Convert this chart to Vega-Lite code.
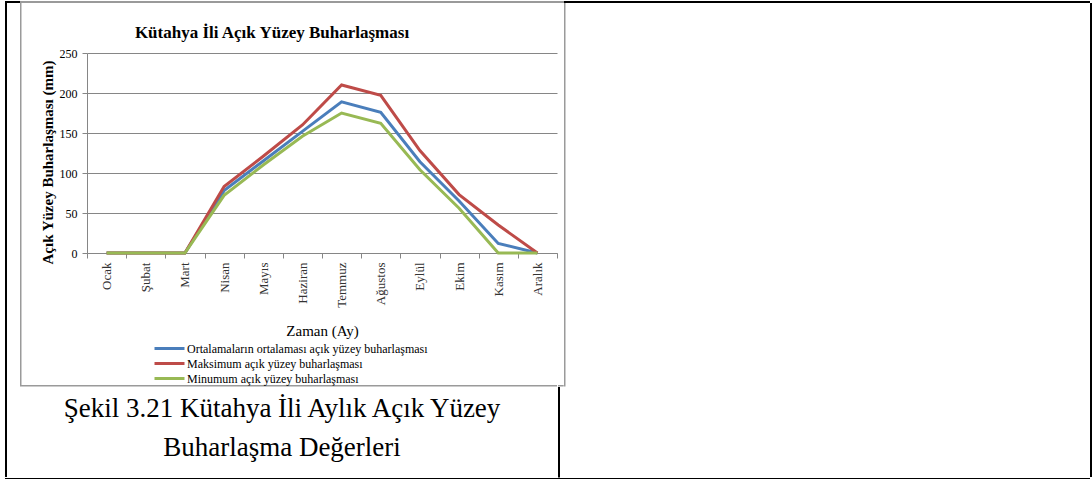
{
  "$schema": "https://vega.github.io/schema/vega-lite/v6.json",
  "autosize": {"type": "pad"},
  "padding": {"left": 5, "top": 1, "right": 0, "bottom": 0},
  "background": "white",
  "config": {
    "view": {"stroke": null},
    "font": "Liberation Serif",
    "concat": {"spacing": 0},
    "legend": {"padding": 0}
  },
  "datasets": {
    "evap": [
      {"ay": "Ocak", "seri": "Ortalamaların ortalaması açık yüzey buharlaşması", "deger": 0},
      {"ay": "Şubat", "seri": "Ortalamaların ortalaması açık yüzey buharlaşması", "deger": 0},
      {"ay": "Mart", "seri": "Ortalamaların ortalaması açık yüzey buharlaşması", "deger": 0},
      {"ay": "Nisan", "seri": "Ortalamaların ortalaması açık yüzey buharlaşması", "deger": 78},
      {"ay": "Mayıs", "seri": "Ortalamaların ortalaması açık yüzey buharlaşması", "deger": 115},
      {"ay": "Haziran", "seri": "Ortalamaların ortalaması açık yüzey buharlaşması", "deger": 152},
      {"ay": "Temmuz", "seri": "Ortalamaların ortalaması açık yüzey buharlaşması", "deger": 189},
      {"ay": "Ağustos", "seri": "Ortalamaların ortalaması açık yüzey buharlaşması", "deger": 176},
      {"ay": "Eylül", "seri": "Ortalamaların ortalaması açık yüzey buharlaşması", "deger": 114},
      {"ay": "Ekim", "seri": "Ortalamaların ortalaması açık yüzey buharlaşması", "deger": 65},
      {"ay": "Kasım", "seri": "Ortalamaların ortalaması açık yüzey buharlaşması", "deger": 12},
      {"ay": "Aralık", "seri": "Ortalamaların ortalaması açık yüzey buharlaşması", "deger": 0},
      {"ay": "Ocak", "seri": "Maksimum açık yüzey buharlaşması", "deger": 0},
      {"ay": "Şubat", "seri": "Maksimum açık yüzey buharlaşması", "deger": 0},
      {"ay": "Mart", "seri": "Maksimum açık yüzey buharlaşması", "deger": 0},
      {"ay": "Nisan", "seri": "Maksimum açık yüzey buharlaşması", "deger": 83},
      {"ay": "Mayıs", "seri": "Maksimum açık yüzey buharlaşması", "deger": 121},
      {"ay": "Haziran", "seri": "Maksimum açık yüzey buharlaşması", "deger": 160},
      {"ay": "Temmuz", "seri": "Maksimum açık yüzey buharlaşması", "deger": 210},
      {"ay": "Ağustos", "seri": "Maksimum açık yüzey buharlaşması", "deger": 197},
      {"ay": "Eylül", "seri": "Maksimum açık yüzey buharlaşması", "deger": 128},
      {"ay": "Ekim", "seri": "Maksimum açık yüzey buharlaşması", "deger": 73},
      {"ay": "Kasım", "seri": "Maksimum açık yüzey buharlaşması", "deger": 35},
      {"ay": "Aralık", "seri": "Maksimum açık yüzey buharlaşması", "deger": 0},
      {"ay": "Ocak", "seri": "Minumum açık yüzey buharlaşması", "deger": 0},
      {"ay": "Şubat", "seri": "Minumum açık yüzey buharlaşması", "deger": 0},
      {"ay": "Mart", "seri": "Minumum açık yüzey buharlaşması", "deger": 0},
      {"ay": "Nisan", "seri": "Minumum açık yüzey buharlaşması", "deger": 72},
      {"ay": "Mayıs", "seri": "Minumum açık yüzey buharlaşması", "deger": 110},
      {"ay": "Haziran", "seri": "Minumum açık yüzey buharlaşması", "deger": 146},
      {"ay": "Temmuz", "seri": "Minumum açık yüzey buharlaşması", "deger": 175},
      {"ay": "Ağustos", "seri": "Minumum açık yüzey buharlaşması", "deger": 162},
      {"ay": "Eylül", "seri": "Minumum açık yüzey buharlaşması", "deger": 104},
      {"ay": "Ekim", "seri": "Minumum açık yüzey buharlaşması", "deger": 56},
      {"ay": "Kasım", "seri": "Minumum açık yüzey buharlaşması", "deger": 0},
      {"ay": "Aralık", "seri": "Minumum açık yüzey buharlaşması", "deger": 0}
    ]
  },
  "spacing": 0,
  "vconcat": [
    {
      "spacing": 0,
      "hconcat": [
        {"width": 15, "height": 2, "view": {"fill": "black", "stroke": null}, "data": {"values": []}, "mark": "text"},
        {"width": 544, "height": 2, "view": {"fill": "#9a9a9a", "stroke": null}, "data": {"values": []}, "mark": "text"},
        {"width": 526, "height": 2, "view": {"fill": "black", "stroke": null}, "data": {"values": []}, "mark": "text"}
      ]
    },
    {
      "spacing": 0,
      "hconcat": [
        {"width": 2, "height": 474, "view": {"fill": "black", "stroke": null}, "data": {"values": []}, "mark": "text"},
        {
          "spacing": 0,
          "vconcat": [
            {
              "spacing": 0,
              "hconcat": [
                {"width": 13, "height": 382, "view": {"fill": "transparent", "stroke": null}, "data": {"values": []}, "mark": "text"},
                {"width": 1.5, "height": 382, "view": {"fill": "#9a9a9a", "stroke": null}, "data": {"values": []}, "mark": "text"},
                {
                  "spacing": 0,
                  "vconcat": [
                    {"width": 100, "height": 21, "view": {"fill": "transparent", "stroke": null}, "data": {"values": []}, "mark": "text"},
                    {
                      "spacing": 0,
                      "hconcat": [
                        {"width": 17.5, "height": 332, "view": {"fill": "transparent", "stroke": null}, "data": {"values": []}, "mark": "text"},
                        {
                          "width": 470,
                          "height": 200,
                          "data": {"name": "evap"},
                          "title": {
                            "text": "Kütahya İli Açık Yüzey Buharlaşması",
                            "font": "Liberation Serif",
                            "fontSize": 17,
                            "fontWeight": "bold",
                            "color": "black",
                            "anchor": "middle",
                            "dx": -50,
                            "offset": 5
                          },
                          "mark": {"type": "line", "strokeWidth": 3},
                          "encoding": {
                            "x": {
                              "field": "ay",
                              "type": "ordinal",
                              "sort": ["Ocak", "Şubat", "Mart", "Nisan", "Mayıs", "Haziran", "Temmuz", "Ağustos", "Eylül", "Ekim", "Kasım", "Aralık"],
                              "bandPosition": 0.5,
                              "scale": {"type": "band", "paddingInner": 0, "paddingOuter": 0},
                              "axis": {
                                "title": "Zaman (Ay)",
                                "titleFont": "Liberation Serif",
                                "titleFontSize": 15,
                                "titleFontWeight": "normal",
                                "titleColor": "black",
                                "titlePadding": 16,
                                "labelAngle": -90,
                                "labelFont": "Liberation Serif",
                                "labelFontSize": 13,
                                "labelColor": "#333333",
                                "labelPadding": 4,
                                "tickBand": "extent",
                                "tickColor": "#868686",
                                "tickSize": 5,
                                "domainColor": "#868686",
                                "grid": false
                              }
                            },
                            "y": {
                              "field": "deger",
                              "type": "quantitative",
                              "scale": {"domain": [0, 250], "nice": false},
                              "axis": {
                                "title": "Açık Yüzey  Buharlaşması (mm)",
                                "titleFont": "Liberation Serif",
                                "titleFontSize": 15,
                                "titleFontWeight": "bold",
                                "titleColor": "black",
                                "titlePadding": 4,
                                "titleY": 109,
                                "values": [0, 50, 100, 150, 200, 250],
                                "labelFont": "Liberation Serif",
                                "labelFontSize": 12,
                                "labelColor": "black",
                                "labelPadding": 5,
                                "tickColor": "#868686",
                                "tickSize": 5,
                                "domainColor": "#868686",
                                "gridColor": "#868686",
                                "gridWidth": 1
                              }
                            },
                            "color": {
                              "field": "seri",
                              "type": "nominal",
                              "scale": {
                                "domain": ["Ortalamaların ortalaması açık yüzey buharlaşması", "Maksimum açık yüzey buharlaşması", "Minumum açık yüzey buharlaşması"],
                                "range": ["#4a7ebb", "#be4b48", "#98b954"]
                              },
                              "legend": {
                                "orient": "none",
                                "legendX": 158,
                                "legendY": 341,
                                "title": null,
                                "direction": "vertical",
                                "symbolType": "M-3,0H3",
                                "symbolSize": 100,
                                "symbolStrokeWidth": 3,
                                "labelFont": "Liberation Serif",
                                "labelFontSize": 12,
                                "labelColor": "black",
                                "labelOffset": 11,
                                "labelLimit": 0,
                                "rowPadding": 2
                              }
                            }
                          }
                        }
                      ]
                    }
                  ]
                }
              ]
            },
            {
              "spacing": 0,
              "hconcat": [
                {"width": 13, "height": 1.5, "view": {"fill": "transparent", "stroke": null}, "data": {"values": []}, "mark": "text"},
                {"width": 537, "height": 1.5, "view": {"fill": "#9a9a9a", "stroke": null}, "data": {"values": []}, "mark": "text"}
              ]
            },
            {
              "width": 550,
              "height": 90.5,
              "view": {"fill": "transparent", "stroke": null},
              "data": {"values": [{"t": "Şekil 3.21 Kütahya İli Aylık Açık Yüzey\nBuharlaşma Değerleri"}]},
              "mark": {"type": "text", "lineBreak": "\n", "font": "Liberation Serif", "fontSize": 27, "lineHeight": 39, "baseline": "middle", "align": "center", "color": "black", "dy": -23.75},
              "encoding": {"text": {"field": "t"}}
            }
          ]
        },
        {
          "spacing": 0,
          "vconcat": [
            {"width": 2, "height": 382, "view": {"fill": "transparent", "stroke": null}, "data": {"values": []}, "mark": "text"},
            {"width": 2, "height": 1.5, "view": {"fill": "#9a9a9a", "stroke": null}, "data": {"values": []}, "mark": "text"},
            {"width": 2, "height": 90.5, "view": {"fill": "black", "stroke": null}, "data": {"values": []}, "mark": "text"}
          ]
        },
        {
          "spacing": 0,
          "hconcat": [
            {
              "spacing": 0,
              "vconcat": [
                {"width": 3.7, "height": 382, "view": {"fill": "transparent", "stroke": null}, "data": {"values": []}, "mark": "text"},
                {"width": 3.7, "height": 1.5, "view": {"fill": "#9a9a9a", "stroke": null}, "data": {"values": []}, "mark": "text"},
                {"width": 3.7, "height": 90.5, "view": {"fill": "transparent", "stroke": null}, "data": {"values": []}, "mark": "text"}
              ]
            },
            {
              "spacing": 0,
              "vconcat": [
                {"width": 1.5, "height": 383.5, "view": {"fill": "#9a9a9a", "stroke": null}, "data": {"values": []}, "mark": "text"},
                {"width": 1.5, "height": 90.5, "view": {"fill": "transparent", "stroke": null}, "data": {"values": []}, "mark": "text"}
              ]
            },
            {"width": 523.8, "height": 474, "view": {"fill": "transparent", "stroke": null}, "data": {"values": []}, "mark": "text"}
          ]
        },
        {"width": 2, "height": 474, "view": {"fill": "black", "stroke": null}, "data": {"values": []}, "mark": "text"}
      ]
    },
    {"width": 1085, "height": 2, "view": {"fill": "black", "stroke": null}, "data": {"values": []}, "mark": "text"}
  ]
}
